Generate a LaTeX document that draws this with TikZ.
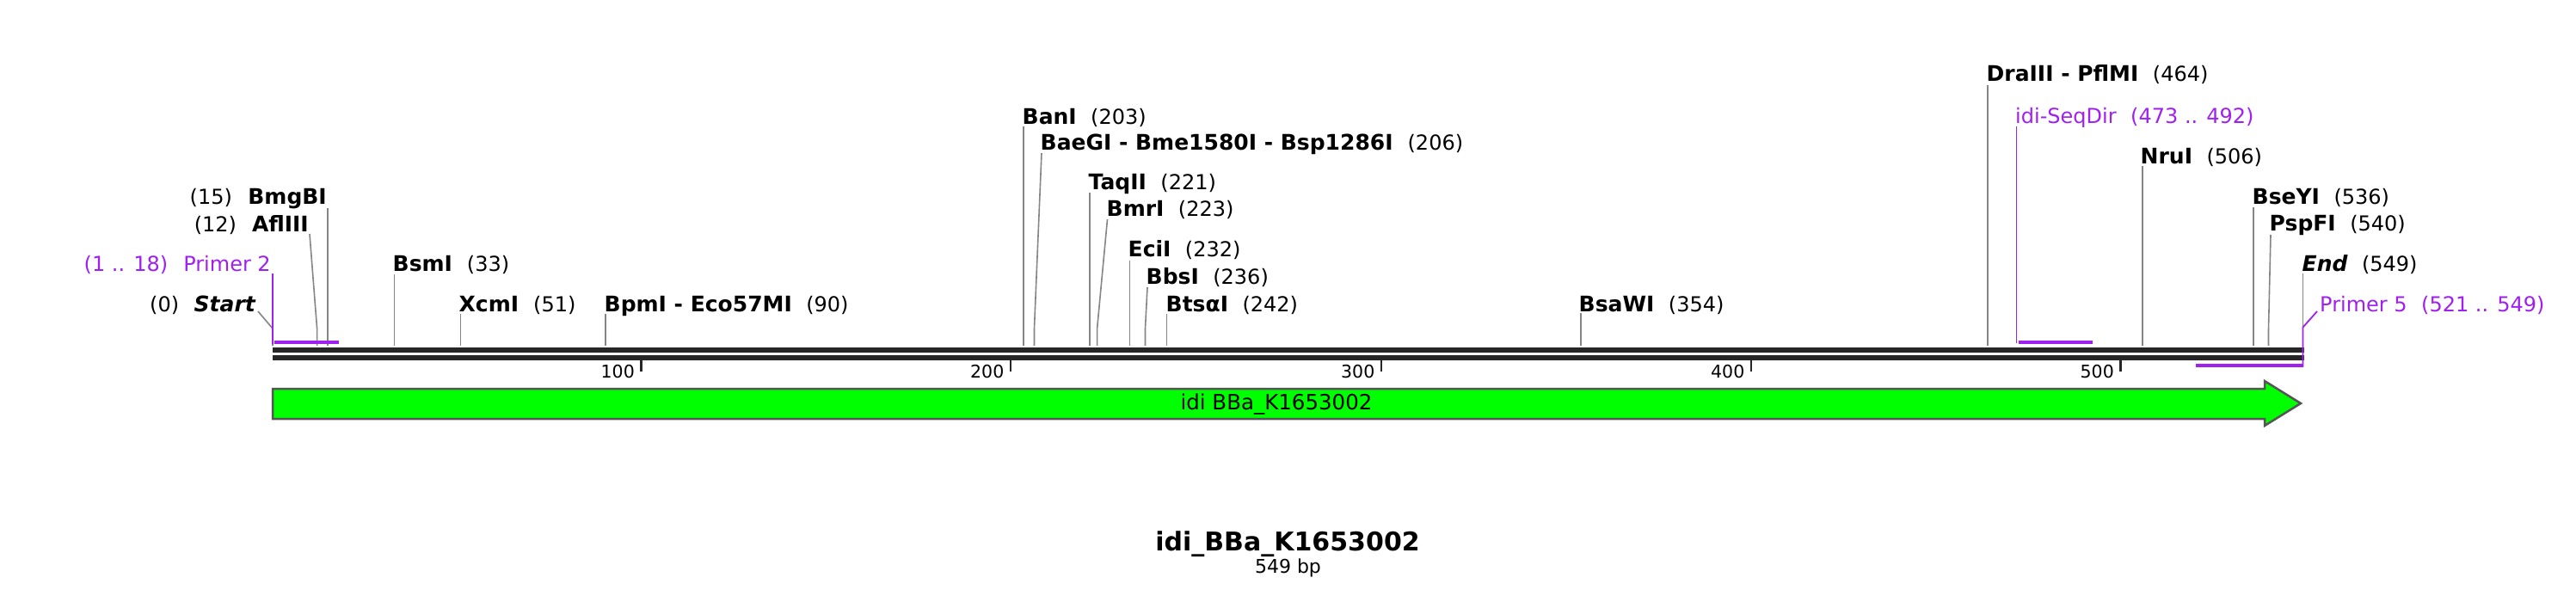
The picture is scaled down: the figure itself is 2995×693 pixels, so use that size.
\documentclass[tikz,border=0pt]{standalone}
\usepackage{fontspec}
\setmainfont{DejaVu Sans}
\definecolor{primcol}{HTML}{A020F0}
\definecolor{sitegray}{HTML}{858585}
\definecolor{bbcol}{HTML}{262626}
\definecolor{featgreen}{HTML}{00FF00}
\definecolor{featedge}{HTML}{555555}
\newcommand{\bnm}[1]{{\fontsize{25}{30}\selectfont\bfseries #1}}
\newcommand{\bit}[1]{{\fontsize{25}{30}\selectfont\bfseries\itshape #1}}
\begin{document}
\begin{tikzpicture}[x=1pt,y=-1pt,
  labw/.style={anchor=base west,inner sep=0pt,font=\fontsize{24}{28}\selectfont},
  labe/.style={anchor=base east,inner sep=0pt,font=\fontsize{24}{28}\selectfont},
  primlab/.style={text=primcol},
  siteline/.style={draw=sitegray,line width=1.6pt},
  primline/.style={draw=primcol,line width=1.8pt},
  primbar/.style={fill=primcol},
  ticklab/.style={anchor=base east,inner sep=0pt,font=\fontsize{20.5}{24}\selectfont},
  feat/.style={draw=featedge,fill=featgreen,line width=2.5pt,line join=miter}]
\useasboundingbox (0,0) rectangle (2995,693);
\fill[white] (0,0) rectangle (2995,693);

% site coordinates on the backbone and kink points
\foreach \n/\x in {0/317,12/368.6,15/381,33/458.5,51/535.5,90/704,203/1190,206/1202.5,221/1267,223/1275.6,232/1313.5,236/1331.5,242/1356.5,354/1838,464/2311,506/2491,536/2620,540/2637.5,549/2677.5}{
  \coordinate (s\n) at (\x,402);
  \coordinate (k\n) at (\x,382);
}

% backbone
\fill[bbcol] (317,404) rectangle (2679,410);
\fill[bbcol] (317,412.7) rectangle (2679,419);

% ticks
\foreach \t/\x in {100/745.5,200/1175,300/1606,400/2036,500/2465.5}{
  \fill[bbcol] (\x-1.3,419) rectangle (\x+1.4,432);
  \node[ticklab] (t\t) at (\x-7.5,439) {\t};
}

% labels, right-aligned
\node[labe] (lBmgBI) at (380,237) {(15)\hspace{18.5pt}\bnm{BmgBI}};
\node[labe] (lAflIII) at (359,269) {(12)\hspace{18pt}\bnm{AflIII}};
\node[labe,primlab] (lPrimerTwo) at (315,315) {(1 .. 18)\hspace{18pt}Primer 2};
\node[labe] (lStart) at (297,362) {(0)\hspace{17.5pt}\bit{Start}};

% labels, left-aligned
\node[labw] (lBsmI) at (456.5,315) {\bnm{BsmI}\hspace{17pt}(33)};
\node[labw] (lXcmI) at (533.5,362) {\bnm{XcmI}\hspace{17pt}(51)};
\node[labw] (lBpmI) at (702.5,362) {\bnm{BpmI - Eco57MI}\hspace{16.5pt}(90)};
\node[labw] (lBanI) at (1188.5,144) {\bnm{BanI}\hspace{16.5pt}(203)};
\node[labw] (lBaeGI) at (1209.5,174) {\bnm{BaeGI - Bme1580I - Bsp1286I}\hspace{17pt}(206)};
\node[labw] (lTaqII) at (1265.5,220) {\bnm{TaqII}\hspace{16.5pt}(221)};
\node[labw] (lBmrI) at (1286.5,251) {\bnm{BmrI}\hspace{16.5pt}(223)};
\node[labw] (lEciI) at (1311.5,298) {\bnm{EciI}\hspace{16.5pt}(232)};
\node[labw] (lBbsI) at (1332.5,330) {\bnm{BbsI}\hspace{16.5pt}(236)};
\node[labw] (lBtsaI) at (1355.5,362) {\bnm{BtsαI}\hspace{16.5pt}(242)};
\node[labw] (lBsaWI) at (1835.5,362) {\bnm{BsaWI}\hspace{16.5pt}(354)};
\node[labw] (lDraIII) at (2309.5,95) {\bnm{DraIII - PflMI}\hspace{16.5pt}(464)};
\node[labw,primlab] (lSeqDir) at (2343,143) {idi-SeqDir\hspace{16.5pt}(473 .. 492)};
\node[labw] (lNruI) at (2488.5,190) {\bnm{NruI}\hspace{16.5pt}(506)};
\node[labw] (lBseYI) at (2618.5,237) {\bnm{BseYI}\hspace{16.5pt}(536)};
\node[labw] (lPspFI) at (2638.5,268) {\bnm{PspFI}\hspace{16.5pt}(540)};
\node[labw] (lEnd) at (2676.5,315) {\bit{End}\hspace{16.5pt}(549)};
\node[labw,primlab] (lPrimerFive) at (2697,362) {Primer 5\hspace{16.5pt}(521 .. 549)};

% straight site connectors
\draw[siteline] (s15) -- ([yshift=-5pt]s15 |- lBmgBI.base);
\draw[siteline] (s33) -- ([yshift=-4pt]s33 |- lBsmI.base);
\draw[siteline] (s51) -- ([yshift=-3pt]s51 |- lXcmI.base);
\draw[siteline] (s90) -- ([yshift=-3pt]s90 |- lBpmI.base);
\draw[siteline] (s203) -- ([yshift=-3pt]s203 |- lBanI.base);
\draw[siteline] (s221) -- ([yshift=-4pt]s221 |- lTaqII.base);
\draw[siteline] (s232) -- ([yshift=-5pt]s232 |- lEciI.base);
\draw[siteline] (s242) -- ([yshift=-3pt]s242 |- lBtsaI.base);
\draw[siteline] (s354) -- ([yshift=-2pt]s354 |- lBsaWI.base);
\draw[siteline] (s464) -- ([yshift=-4pt]s464 |- lDraIII.base);
\draw[siteline] (s506) -- ([yshift=-3pt]s506 |- lNruI.base);
\draw[siteline] (s536) -- ([yshift=-4pt]s536 |- lBseYI.base);
\draw[siteline] (k549) -- ([yshift=-3pt]k549 |- lEnd.base);

% bent site connectors
\draw[siteline] ([xshift=3pt]lStart.base east) -- (k0) -- (s0);
\draw[siteline] ([xshift=1pt,yshift=-3pt]lAflIII.base east) -- (k12) -- (s12);
\draw[siteline] ([xshift=1.5pt,yshift=-4pt]lBaeGI.base west) -- (k206) -- (s206);
\draw[siteline] ([xshift=1pt,yshift=-4pt]lBmrI.base west) -- (k223) -- (s223);
\draw[siteline] ([xshift=1.5pt,yshift=-4pt]lBbsI.base west) -- (k236) -- (s236);
\draw[siteline] ([xshift=1.5pt,yshift=-5pt]lPspFI.base west) -- (k540) -- (s540);

% primers
\coordinate (pTwoTop) at (316.9,318);
\coordinate (pTwoBot) at (316.9,400);
\draw[primline] (pTwoTop) -- (pTwoBot);
\fill[primbar] (319,396) rectangle (394,400);

\coordinate (pSeqTop) at (2344.5,147);
\coordinate (pSeqBot) at (2344.5,399);
\draw[primline] (pSeqTop) -- (pSeqBot);
\fill[primbar] (2346.5,396) rectangle (2433,400);

\coordinate (pFiveK) at (2677.5,380.5);
\coordinate (pFiveBot) at (2677.5,426.5);
\draw[primline,line join=miter] ([xshift=-3pt,yshift=0pt]lPrimerFive.base west) -- (pFiveK) -- (pFiveBot);
\fill[primbar] (2553,423) rectangle (2678.4,426.5);

% feature arrow
\draw[feat] (317,452) -- (2633,452) -- (2633,443) -- (2675,469) -- (2633,495) -- (2633,487) -- (317,487) -- cycle;
\node[anchor=base,inner sep=0pt,font=\fontsize{24.5}{28}\selectfont] (featlab) at (1484,476.7) {idi BBa\_K1653002};

% title
\node[anchor=base,inner sep=0pt,font=\fontsize{30}{34}\selectfont\bfseries] (title) at (1497,640) {idi\_BBa\_K1653002};
\node[anchor=base,inner sep=0pt,font=\fontsize{22}{26}\selectfont] (size) at (1497.5,666) {549 bp};
\end{tikzpicture}
\end{document}
